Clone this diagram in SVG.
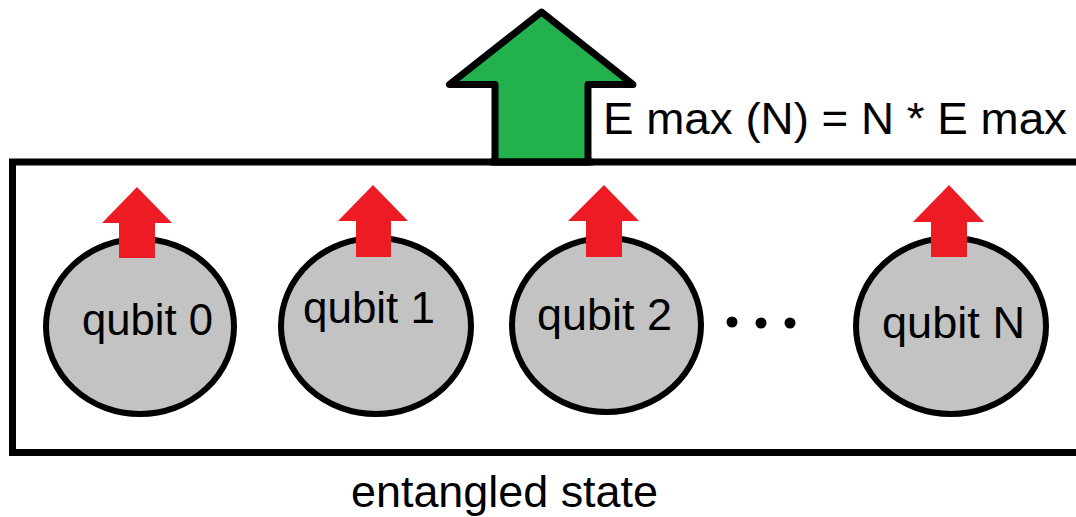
<svg xmlns="http://www.w3.org/2000/svg" width="1076" height="517" viewBox="0 0 1076 517">
<style>
  .lbl { font-family: "Liberation Sans", Arial, sans-serif; fill: #000; }
  .q { fill: #C3C3C3; stroke: #000; stroke-width: 6; }
  .red { fill: #ED1C24; stroke: none; }
  .green { fill: #22B14C; stroke: #000; stroke-width: 7; stroke-linejoin: round; }
  .box { fill: #fff; stroke: #000; stroke-width: 7; }
</style>
<rect width="1076" height="517" fill="#fff"/>
<g id="entangled-state">
  <rect class="box" x="12.5" y="162" width="1080" height="290.5"/>
  <text class="lbl" x="351" y="507" font-size="45" textLength="307" lengthAdjust="spacingAndGlyphs">entangled state</text>
</g>
<g id="total-energy">
  <polygon class="green" points="541.5,12 449.5,84.5 495,84.5 495,162 588,162 588,84.5 633,84.5"/>
  <line x1="490" y1="162" x2="593" y2="162" stroke="#000" stroke-width="7"/>
  <text class="lbl" x="603" y="134" font-size="44" textLength="464" lengthAdjust="spacingAndGlyphs">E max (N) = N * E max</text>
</g>
<g id="qubit-0">
  <ellipse class="q" cx="140" cy="326.5" rx="94" ry="87.5"/>
  <polygon class="red" points="137,187 102,223 119,223 119,258 155,258 155,223 172,223"/>
  <text class="lbl" x="82" y="335" font-size="44" textLength="131" lengthAdjust="spacingAndGlyphs">qubit 0</text>
</g>
<g id="qubit-1">
  <ellipse class="q" cx="376" cy="326" rx="95" ry="88"/>
  <polygon class="red" points="373,185 338,221 356,221 356,257 391,257 391,221 408,221"/>
  <text class="lbl" x="303" y="323" font-size="44" textLength="132" lengthAdjust="spacingAndGlyphs">qubit 1</text>
</g>
<g id="qubit-2">
  <ellipse class="q" cx="606.5" cy="325" rx="94.5" ry="87"/>
  <polygon class="red" points="604,185 568,221 586,221 586,257 622,257 622,221 639,221"/>
  <text class="lbl" x="537" y="330" font-size="44" textLength="135" lengthAdjust="spacingAndGlyphs">qubit 2</text>
</g>
<g id="ellipsis">
  <circle cx="732" cy="322" r="5.5" fill="#000"/>
  <circle cx="761" cy="323" r="5.5" fill="#000"/>
  <circle cx="790" cy="323" r="5.5" fill="#000"/>
</g>
<g id="qubit-N">
  <ellipse class="q" cx="951" cy="326" rx="95" ry="88"/>
  <polygon class="red" points="949,185 913,222 931,222 931,257 967,257 967,222 984,222"/>
  <text class="lbl" x="882" y="338" font-size="44" textLength="143" lengthAdjust="spacingAndGlyphs">qubit N</text>
</g>
<g id="connectors"></g>
</svg>
